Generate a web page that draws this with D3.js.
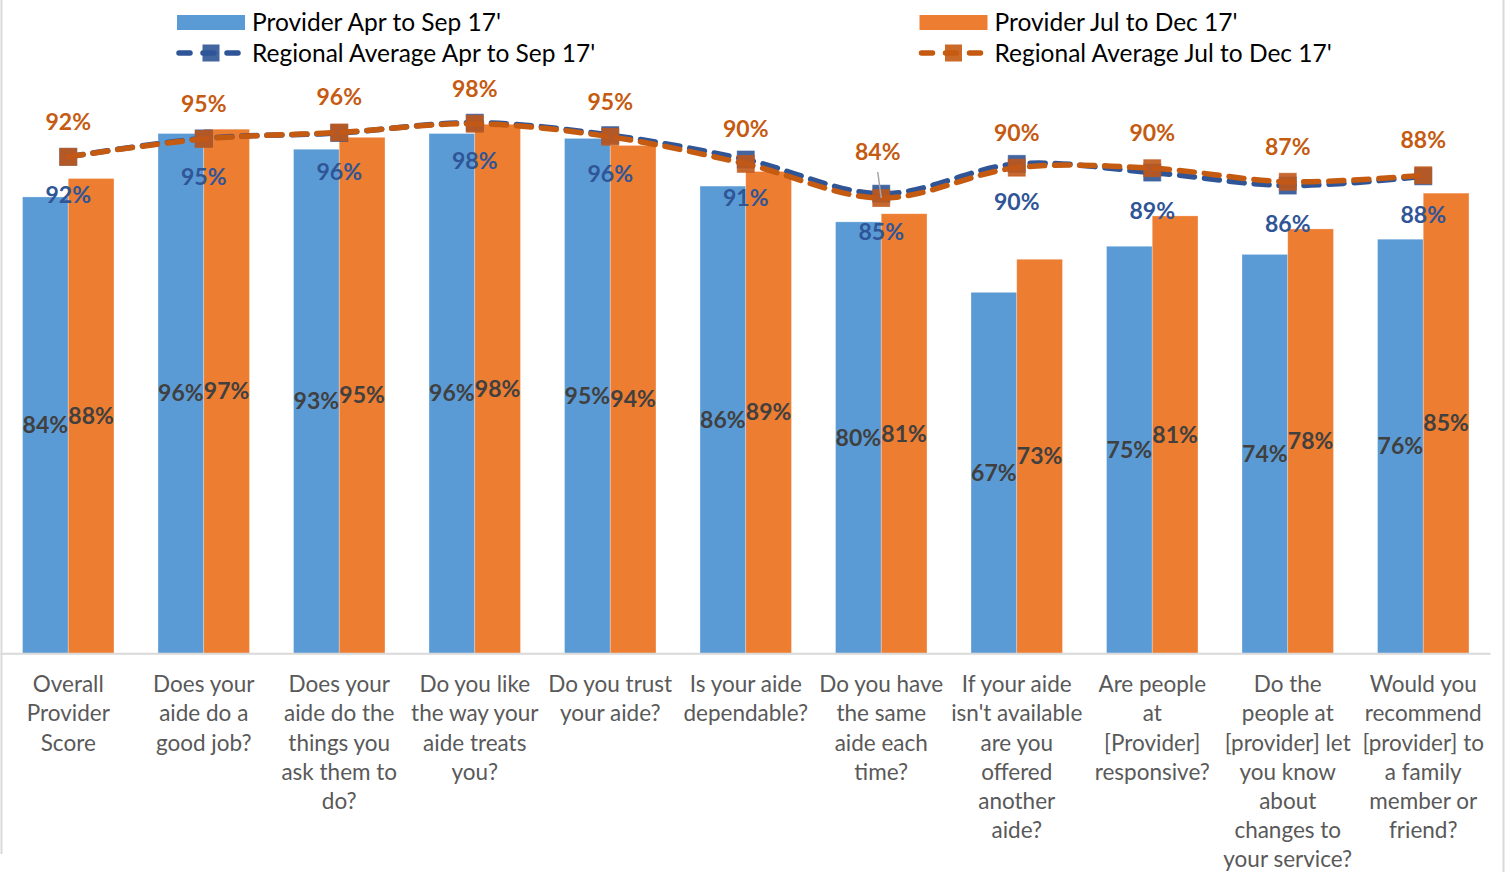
<!DOCTYPE html>
<html>
<head>
<meta charset="utf-8">
<script src="https://cdn.jsdelivr.net/npm/d3@7"></script>
<style>
  html, body { margin: 0; padding: 0; background: #fff; }
  svg { display: block; }
</style>
</head>
<body>
<svg id="chart" width="1505" height="872"></svg>
<script>
// ---------------- data ----------------
const categories = [
  "Overall\nProvider\nScore",
  "Does your\naide do a\ngood job?",
  "Does your\naide do the\nthings you\nask them to\ndo?",
  "Do you like\nthe way your\naide treats\nyou?",
  "Do you trust\nyour aide?",
  "Is your aide\ndependable?",
  "Do you have\nthe same\naide each\ntime?",
  "If your aide\nisn't available\nare you\noffered\nanother\naide?",
  "Are people\nat\n[Provider]\nresponsive?",
  "Do the\npeople at\n[provider] let\nyou know\nabout\nchanges to\nyour service?",
  "Would you\nrecommend\n[provider] to\na family\nmember or\nfriend?"
];
const provApr = [0.842, 0.959, 0.930, 0.959, 0.950, 0.862, 0.796, 0.666, 0.751, 0.736, 0.764];
const provJul = [0.876, 0.967, 0.952, 0.976, 0.937, 0.889, 0.811, 0.727, 0.807, 0.783, 0.849];
const regionalAprSep = [0.916, 0.950, 0.960, 0.979, 0.956, 0.911, 0.848, 0.903, 0.887, 0.863, 0.880];
const regionalJulDec = [0.916, 0.949, 0.961, 0.977, 0.953, 0.903, 0.840, 0.896, 0.895, 0.870, 0.882];
const seriesNames = [
  "Provider Apr to Sep 17'",
  "Provider Jul to Dec 17'",
  "Regional Average Apr to Sep 17'",
  "Regional Average Jul to Dec 17'"
];

// ---------------- styles ----------------
const C = {
  blueBar: "#5B9BD5", orangeBar: "#ED7D31",
  blueLine: "#2F5597", orangeLine: "#C55A11",
  barLabel: "#404040", axisText: "#595959", grid: "#D9D9D9"
};
const FONT = "Lato, 'Open Sans', sans-serif";

const svg = d3.select("#chart");

// ---------------- scales ----------------
const idx = d3.range(categories.length);
const x = d3.scaleBand().domain(idx).range([0.5, 1491])
  .paddingInner(0.325).paddingOuter(0.1625);
const x1 = d3.scaleBand().domain([0, 1]).range([0, x.bandwidth()]);
const y = d3.scaleLinear().domain([0, 1]).range([653.3, 111.3]);
const cx = i => x(i) + x.bandwidth() / 2;

// chart border (left/right)
svg.append("line").attr("x1", 1.5).attr("x2", 1.5).attr("y1", 0).attr("y2", 854)
  .attr("stroke", C.grid).attr("stroke-width", 2);
svg.append("line").attr("x1", 1503.5).attr("x2", 1503.5).attr("y1", 0).attr("y2", 872)
  .attr("stroke", C.grid).attr("stroke-width", 2);

// ---------------- bars ----------------
const barData = idx.flatMap(i => [
  { i, s: 0, v: provApr[i], color: C.blueBar },
  { i, s: 1, v: provJul[i], color: C.orangeBar }
]);
svg.append("g").selectAll("rect").data(barData).join("rect")
  .attr("x", d => x(d.i) + x1(d.s))
  .attr("width", x1.bandwidth())
  .attr("y", d => y(d.v))
  .attr("height", d => y(0) - y(d.v))
  .attr("fill", d => d.color)
  .attr("stroke", "#ffffff").attr("stroke-opacity", 0.35).attr("stroke-width", 0.8);

// x axis
const xAxis = d3.axisBottom(d3.scaleLinear().domain([0, 1]).range([0, 1490])).ticks(0).tickSize(0).tickFormat("");
const axG = svg.append("g").attr("transform", `translate(0,${y(0)})`).call(xAxis);
axG.select(".domain").attr("stroke", C.grid).attr("stroke-width", 2);

// category labels
const catG = svg.append("g").attr("font-family", FONT).attr("font-size", 22.5).attr("fill", C.axisText)
  .attr("text-anchor", "middle");
idx.forEach(i => {
  const t = catG.append("text").attr("x", cx(i)).attr("y", 684.5);
  categories[i].split("\n").forEach((ln, k) => {
    t.append("tspan").attr("x", cx(i)).attr("y", 684.5 + k * 29.1).attr("dy", "0.35em").text(ln);
  });
});

// bar labels
const fmt = d3.format(".0%");
svg.append("g").attr("font-family", FONT).attr("font-weight", 700).attr("font-size", 23)
  .attr("fill", C.barLabel).attr("text-anchor", "middle")
  .selectAll("text").data(barData).join("text")
  .attr("x", d => x(d.i) + x1(d.s) + x1.bandwidth() / 2)
  .attr("y", d => (y(d.v) + y(0)) / 2)
  .attr("dy", "0.35em")
  .text(d => fmt(d.v));

// ---------------- lines ----------------
const line = d3.line().x((d, i) => cx(i)).y(d => y(d)).curve(d3.curveCatmullRom.alpha(0.5));
function drawSeries(vals, color, markerFill) {
  svg.append("path").datum(vals).attr("d", line)
    .attr("fill", "none").attr("stroke", color).attr("stroke-width", 5.5)
    .attr("stroke-dasharray", "15 10").attr("stroke-linecap", "round");
  svg.append("g").selectAll("rect").data(vals).join("rect")
    .attr("x", (d, i) => cx(i) - 8.5).attr("y", d => y(d) - 8.5)
    .attr("width", 17).attr("height", 17)
    .attr("fill", markerFill).attr("fill-opacity", 0.9)
    .attr("stroke", markerFill).attr("stroke-opacity", 0.6).attr("stroke-width", 1);
}
drawSeries(regionalAprSep, C.blueLine, C.blueLine);
drawSeries(regionalJulDec, C.orangeLine, "#C0581A");

// line labels
const lblG = svg.append("g").attr("font-family", FONT).attr("font-weight", 700).attr("font-size", 23)
  .attr("text-anchor", "middle");
lblG.selectAll("text.b").data(regionalAprSep).join("text").attr("class", "b")
  .attr("x", (d, i) => cx(i)).attr("y", d => y(d) + 38.5).attr("dy", "0.35em")
  .attr("fill", C.blueLine).text(d => fmt(d));
const nudge = i => (i === 6 ? { dx: -3.5, dy: -11 } : { dx: 0, dy: 0 });
lblG.selectAll("text.o").data(regionalJulDec).join("text").attr("class", "o")
  .attr("x", (d, i) => cx(i) + nudge(i).dx).attr("y", (d, i) => y(d) - 35 + nudge(i).dy).attr("dy", "0.35em")
  .attr("fill", C.orangeLine).text(d => fmt(d));
// leader line for moved label
svg.append("line")
  .attr("x1", cx(6) - 3.5).attr("y1", y(regionalJulDec[6]) - 26)
  .attr("x2", cx(6)).attr("y2", y(regionalJulDec[6]))
  .attr("stroke", "#A6A6A6").attr("stroke-width", 1.5);

// ---------------- legend ----------------
const leg = svg.append("g").attr("font-family", FONT).attr("font-size", 24.5).attr("fill", "#000");
const legItems = [
  { type: "bar", color: C.blueBar, x: 177, y: 22.5, name: seriesNames[0] },
  { type: "bar", color: C.orangeBar, x: 919.5, y: 22.5, name: seriesNames[1] },
  { type: "line", color: C.blueLine, x: 177, y: 53, name: seriesNames[2] },
  { type: "line", color: C.orangeLine, x: 919.5, y: 53, name: seriesNames[3] }
];
legItems.forEach(it => {
  if (it.type === "bar") {
    leg.append("rect").attr("x", it.x).attr("y", it.y - 7.5).attr("width", 68).attr("height", 15).attr("fill", it.color);
  } else {
    leg.append("line").attr("x1", it.x + 2).attr("x2", it.x + 66).attr("y1", it.y).attr("y2", it.y)
      .attr("stroke", it.color).attr("stroke-width", 5.5).attr("stroke-linecap", "round")
      .attr("stroke-dasharray", "11 13");
    leg.append("rect").attr("x", it.x + 34 - 8.5).attr("y", it.y - 8.5).attr("width", 17).attr("height", 17)
      .attr("fill", it.color).attr("fill-opacity", 0.9);
  }
  leg.append("text").attr("x", it.x + 75).attr("y", it.y).attr("dy", "0.35em").text(it.name);
});
</script>
</body>
</html>
